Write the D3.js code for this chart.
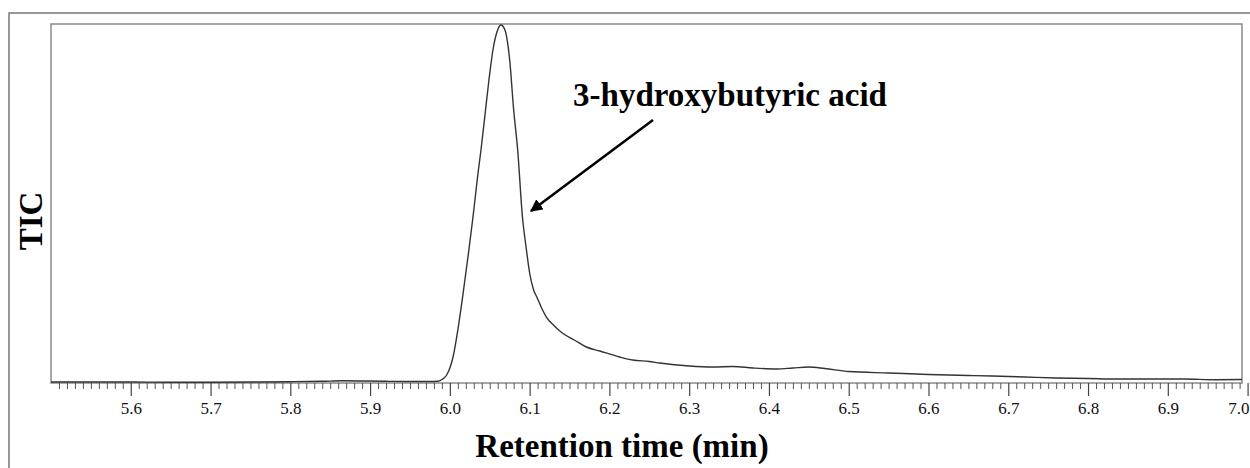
<!DOCTYPE html>
<html>
<head>
<meta charset="utf-8">
<script src="https://cdn.jsdelivr.net/npm/d3@7"></script>
<style>
  html, body { margin: 0; padding: 0; background: #fff; }
  svg { display: block; }
</style>
</head>
<body>
<svg id="chart" width="1250" height="468"></svg>
<script>
// Retention time (min)
const times = [
  5.50, 5.55, 5.60, 5.65, 5.70, 5.75, 5.80, 5.84, 5.865, 5.89, 5.92, 5.95, 5.975, 5.985,
  5.991, 5.996, 6.000, 6.004, 6.010, 6.016, 6.023, 6.029, 6.035, 6.039, 6.044, 6.049, 6.054, 6.059,
  6.064, 6.069, 6.075, 6.080, 6.085, 6.091, 6.096, 6.100, 6.105, 6.109, 6.115, 6.121, 6.131, 6.141,
  6.156, 6.171, 6.188, 6.213, 6.229, 6.25, 6.263, 6.30, 6.33, 6.355, 6.38, 6.41, 6.43, 6.45, 6.47,
  6.50, 6.55, 6.60, 6.65, 6.68, 6.72, 6.76, 6.80, 6.84, 6.88, 6.92, 6.96, 6.993
];
// TIC (relative intensity, %)
const tic = [
  0.28, 0.28, 0.28, 0.19, 0.19, 0.28, 0.36, 0.47, 0.61, 0.56, 0.47, 0.42, 0.42, 0.47,
  1.11, 2.23, 4.18, 7.24, 14.76, 23.96, 35.65, 46.24, 57.94, 64.9, 74.65, 84.4, 92.76, 97.77,
  99.72, 98.33, 89.97, 76.04, 64.9, 46.24, 37.05, 30.64, 25.91, 23.96, 20.89, 18.38, 15.88, 13.93,
  11.98, 10.03, 8.91, 7.24, 6.41, 5.99, 5.57, 4.74, 4.46, 4.6, 4.18, 3.9, 4.18, 4.46, 4.04,
  3.2, 2.79, 2.37, 2.09, 1.95, 1.67, 1.39, 1.25, 1.11, 1.11, 1.11, 0.92, 0.97
];
const xTickValues = [5.6, 5.7, 5.8, 5.9, 6.0, 6.1, 6.2, 6.3, 6.4, 6.5, 6.6, 6.7, 6.8, 6.9, 7.0];
const xLabel = "Retention time (min)";
const yLabel = "TIC";
const annotation = "3-hydroxybutyric acid";

(function () {
const svg = d3.select("#chart");
const pl = 51, pr = 1242, pt = 24, pb = 383;
const serif = "'Liberation Serif', 'Times New Roman', serif";

const x = d3.scaleLinear().domain([5.5, 6.993]).range([pl, pr]);
const y = d3.scaleLinear().domain([0, 100]).range([pb, pt]);

// outer frame (left & top edges)
svg.append("path")
  .attr("d", `M9,468 L9,13 L1250,13`)
  .attr("fill", "none").attr("stroke", "#777").attr("stroke-width", 1.5);

// inner plot frame
svg.append("rect")
  .attr("x", pl).attr("y", pt)
  .attr("width", pr - pl).attr("height", pb - pt)
  .attr("fill", "none").attr("stroke", "#8a8a8a").attr("stroke-width", 1.5);

// minor ticks (0.01 min)
const minorTicks = d3.range(551, 700).map(d => d / 100).filter(d => d <= 6.993 + 1e-9 && Math.round(d * 100) % 10 !== 0);
const xMinor = d3.axisBottom(x).tickValues(minorTicks).tickSize(6).tickFormat("");
const gMinor = svg.append("g").attr("transform", `translate(0,${pb})`).call(xMinor);
gMinor.select(".domain").remove();
gMinor.selectAll("line").attr("stroke", "#555").attr("stroke-width", 1);

// major ticks
const xAxis = d3.axisBottom(x).tickValues(xTickValues).tickSize(13).tickPadding(6)
  .tickFormat(d3.format(".1f"));
const gx = svg.append("g").attr("transform", `translate(0,${pb})`).call(xAxis);
gx.attr("font-size", null).attr("font-family", null);
gx.select(".domain").remove();
gx.selectAll("line").attr("stroke", "#444").attr("stroke-width", 1.2);
gx.selectAll("text")
  .style("font-family", serif)
  .style("font-size", "17px").attr("fill", "#111");
// last label sits against the right edge, as in the reference
gx.selectAll(".tick").filter(d => d >= 7.0).select("text")
  .attr("text-anchor", "end").attr("x", 1249 - x(7.0));

// data line
const line = d3.line()
  .x((d, i) => x(times[i]))
  .y(d => y(d))
  .curve(d3.curveMonotoneX);
svg.append("path")
  .datum(tic)
  .attr("d", line)
  .attr("fill", "none").attr("stroke", "#333").attr("stroke-width", 1.4);

// axis labels
svg.append("text")
  .attr("x", 622).attr("y", 457)
  .attr("text-anchor", "middle")
  .style("font-family", serif)
  .attr("font-weight", "bold").style("font-size", "33px")
  .text(xLabel);

svg.append("text")
  .attr("transform", "translate(42,221) rotate(-90)")
  .attr("text-anchor", "middle")
  .style("font-family", serif)
  .attr("font-weight", "bold").style("font-size", "33px")
  .text(yLabel);

// annotation
svg.append("text")
  .attr("x", 730).attr("y", 106)
  .attr("text-anchor", "middle")
  .style("font-family", serif)
  .attr("font-weight", "bold").style("font-size", "33px")
  .text(annotation);

svg.append("defs").append("marker")
  .attr("id", "arrow").attr("viewBox", "0 0 10 10")
  .attr("refX", 9).attr("refY", 5)
  .attr("markerWidth", 5).attr("markerHeight", 5)
  .attr("markerUnits", "strokeWidth")
  .attr("orient", "auto")
  .append("path").attr("d", "M0,0 L10,5 L0,10 z").attr("fill", "#000");

svg.append("line")
  .attr("x1", 653).attr("y1", 120)
  .attr("x2", 531).attr("y2", 211)
  .attr("stroke", "#000").attr("stroke-width", 2.5)
  .attr("marker-end", "url(#arrow)");
})();
</script>
</body>
</html>
